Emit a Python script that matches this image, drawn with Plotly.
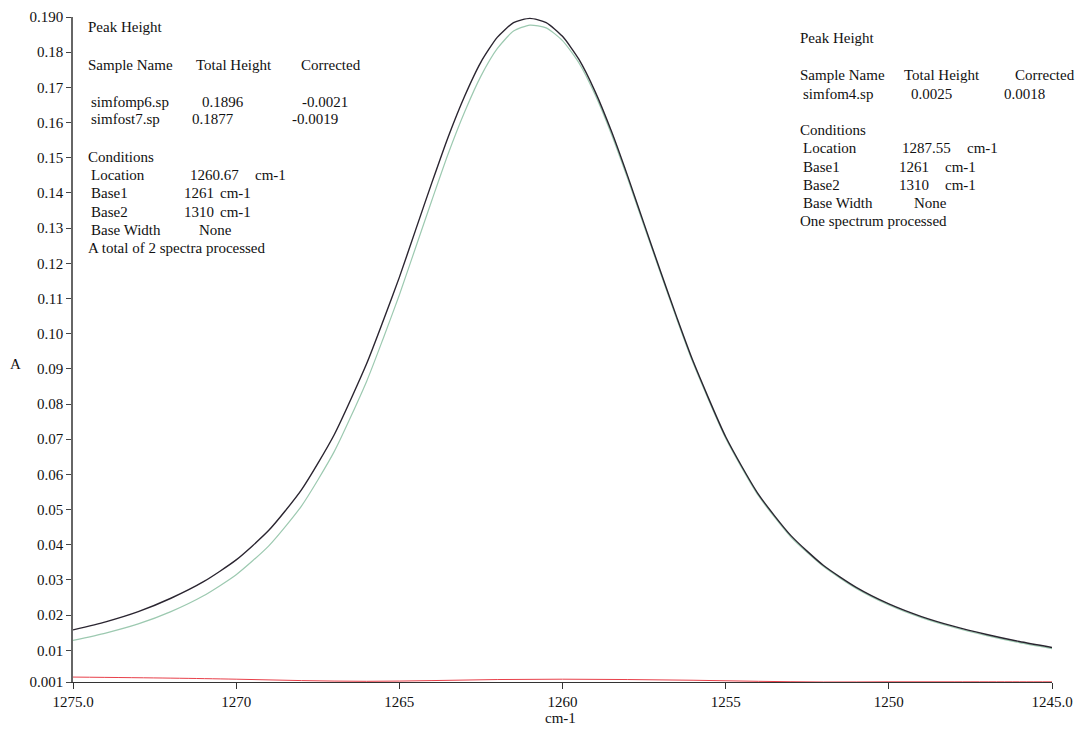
import plotly.graph_objects as go

# wavenumbers (cm-1)
wn_main = [1275, 1274, 1273, 1272, 1271, 1270, 1269, 1268, 1267, 1266, 1265.5, 1265, 1264.5,
           1264, 1263.5, 1263, 1262.5, 1262, 1261.5, 1261, 1260.5, 1260, 1259.5, 1259, 1258.5,
           1258, 1257.5, 1257, 1256.5, 1256, 1255, 1254, 1253, 1252, 1251, 1250, 1249, 1248,
           1247, 1246, 1245]

simfomp6 = [0.0158, 0.0181, 0.0210, 0.0248, 0.0295, 0.0357, 0.0441, 0.0556, 0.0712, 0.0915,
            0.1035, 0.1160, 0.1295, 0.1430, 0.1560, 0.1675, 0.1772, 0.1842, 0.1884, 0.1896,
            0.1884, 0.1845, 0.1780, 0.1688, 0.1575, 0.1447, 0.1312, 0.1178, 0.1047, 0.0922,
            0.0707, 0.0544, 0.0426, 0.0341, 0.0279, 0.0232, 0.0196, 0.0168, 0.0145, 0.0125,
            0.0108]

simfost7 = [0.0128, 0.0149, 0.0175, 0.0210, 0.0255, 0.0315, 0.0397, 0.0510, 0.0664, 0.0865,
            0.0985, 0.1110, 0.1245, 0.1380, 0.1512, 0.1630, 0.1732, 0.1810, 0.1860, 0.1877,
            0.1869, 0.1833, 0.1770, 0.1679, 0.1567, 0.1440, 0.1306, 0.1173, 0.1042, 0.0917,
            0.0703, 0.0540, 0.0422, 0.0338, 0.0276, 0.0229, 0.0193, 0.0165, 0.0142, 0.0122,
            0.0105]

wn_red = [1275, 1272, 1270, 1268, 1266, 1264, 1262, 1260, 1258, 1256, 1254, 1252, 1250,
          1248, 1246, 1245]
simfom4 = [0.0024, 0.0021, 0.0018, 0.0014, 0.0012, 0.0014, 0.0017, 0.0018, 0.0017, 0.0015,
           0.0012, 0.0010, 0.00105, 0.00105, 0.00105, 0.00105]

x_tickvals = [1275, 1270, 1265, 1260, 1255, 1250, 1245]
x_ticktext = ["1275.0", "1270", "1265", "1260", "1255", "1250", "1245.0"]
y_tickvals = [0.001, 0.01, 0.02, 0.03, 0.04, 0.05, 0.06, 0.07, 0.08, 0.09, 0.10, 0.11,
              0.12, 0.13, 0.14, 0.15, 0.16, 0.17, 0.18, 0.190]
y_ticktext = ["0.001", "0.01", "0.02", "0.03", "0.04", "0.05", "0.06", "0.07", "0.08",
              "0.09", "0.10", "0.11", "0.12", "0.13", "0.14", "0.15", "0.16", "0.17",
              "0.18", "0.190"]

FONT = "Liberation Serif"
L, R, T, B = 73, 1052, 17, 682

fig = go.Figure()
fig.add_trace(go.Scatter(x=wn_main, y=simfost7, mode="lines", name="simfost7.sp",
                         line=dict(color="#9cc9b0", width=1.2, shape="spline", smoothing=0.6)))
fig.add_trace(go.Scatter(x=wn_main, y=simfomp6, mode="lines", name="simfomp6.sp",
                         line=dict(color="#2a2530", width=1.4, shape="spline", smoothing=0.6)))
fig.add_trace(go.Scatter(x=wn_red, y=simfom4, mode="lines", name="simfom4.sp",
                         line=dict(color="#e8404a", width=1, shape="spline")))

annos = []


def txt(px, py, s, anchor="left"):
    annos.append(dict(x=(px - L) / (R - L), y=(B - py) / (B - T), xref="paper", yref="paper",
                      text=s, showarrow=False, xanchor=anchor, yanchor="middle",
                      font=dict(family=FONT, size=15, color="#111")))


# left block
txt(86, 27, "Peak Height")
txt(86, 65, "Sample Name")
txt(194, 65, "Total Height")
txt(299, 65, "Corrected")
txt(89, 102, "simfomp6.sp")
txt(200, 102, "0.1896")
txt(300, 102, "-0.0021")
txt(89, 119, "simfost7.sp")
txt(190, 119, "0.1877")
txt(290, 119, "-0.0019")
txt(86, 157, "Conditions")
txt(89, 175, "Location")
txt(188, 175, "1260.67")
txt(253, 175, "cm-1")
txt(89, 193, "Base1")
txt(182, 193, "1261")
txt(218, 193, "cm-1")
txt(89, 212, "Base2")
txt(182, 212, "1310")
txt(218, 212, "cm-1")
txt(89, 230, "Base Width")
txt(197, 230, "None")
txt(86, 248, "A total of 2 spectra processed")

# right block
txt(798, 38, "Peak Height")
txt(798, 75, "Sample Name")
txt(902, 75, "Total Height")
txt(1013, 75, "Corrected")
txt(801, 94, "simfom4.sp")
txt(909, 94, "0.0025")
txt(1002, 94, "0.0018")
txt(798, 130, "Conditions")
txt(801, 148, "Location")
txt(900, 148, "1287.55")
txt(965, 148, "cm-1")
txt(801, 167, "Base1")
txt(897, 167, "1261")
txt(943, 167, "cm-1")
txt(801, 185, "Base2")
txt(897, 185, "1310")
txt(943, 185, "cm-1")
txt(801, 203, "Base Width")
txt(912, 203, "None")
txt(798, 221, "One spectrum processed")

# axis titles
txt(15, 364, "A", anchor="center")
txt(560, 718, "cm-1", anchor="center")

fig.update_layout(
    width=1083, height=731,
    margin=dict(l=L, r=1083 - R, t=T, b=731 - B),
    paper_bgcolor="white", plot_bgcolor="white",
    showlegend=False,
    annotations=annos,
    font=dict(family=FONT, size=15, color="#111"),
)
fig.update_xaxes(range=[1275, 1245], tickvals=x_tickvals, ticktext=x_ticktext,
                 automargin=False,
                 showgrid=False, zeroline=False, showline=True, linecolor="#333", linewidth=1.2,
                 ticks="outside", ticklen=6, tickcolor="#333",
                 tickfont=dict(family=FONT, size=15, color="#111"))
fig.update_yaxes(range=[0.001, 0.190], tickvals=y_tickvals, ticktext=y_ticktext,
                 automargin=False,
                 showgrid=False, zeroline=False, showline=True, linecolor="#666", linewidth=1.6,
                 ticks="outside", ticklen=5, tickcolor="#444",
                 tickfont=dict(family=FONT, size=15, color="#111"))

fig.write_html("out.html")
